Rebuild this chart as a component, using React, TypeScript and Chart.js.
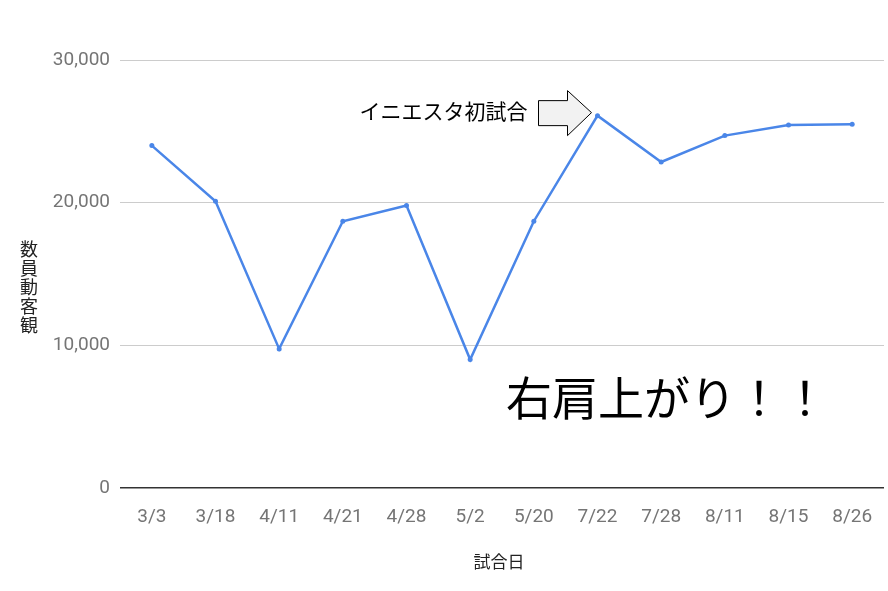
import React, { useEffect, useRef } from 'react';
import { Chart, registerables } from 'chart.js';

Chart.register(...registerables);

// ---- DATA ----
const matchDates = ['3/3', '3/18', '4/11', '4/21', '4/28', '5/2', '5/20', '7/22', '7/28', '8/11', '8/15', '8/26'];
const attendance = [24000, 20100, 9750, 18700, 19800, 9000, 18700, 26100, 22850, 24700, 25450, 25500];
const yTicks = [0, 10000, 20000, 30000];
const yTitleChars = ['数', '員', '動', '客', '観'];
const xTitle = '試合日';
const calloutText = 'イニエスタ初試合';
const calloutIndex = 7;
const bigText = '右肩上がり！！';

const LINE = '#4a86e8';
const TICK = '#757575';
const CJK = '"Noto Sans CJK JP", "Noto Sans", sans-serif';

// overlay texts + arrow, drawn after the chart
const overlay = {
  id: 'overlay',
  afterDraw(chart: any) {
    const { ctx, chartArea, scales } = chart;
    ctx.save();

    // stacked y title
    ctx.fillStyle = '#222';
    ctx.font = `18px ${CJK}`;
    ctx.textAlign = 'center';
    ctx.textBaseline = 'middle';
    yTitleChars.forEach((c, i) => ctx.fillText(c, 29, 249 + i * 19));

    // x title
    ctx.font = `17px ${CJK}`;
    ctx.fillText(xTitle, (chartArea.left + chartArea.right) / 2 - 3, 562);

    // arrow pointing at the callout point
    const px = scales.x.getPixelForValue(calloutIndex);
    const py = scales.y.getPixelForValue(attendance[calloutIndex]);
    const tx = px - 6;
    const ty = py - 3;
    ctx.beginPath();
    ctx.moveTo(tx - 53, ty - 12);
    ctx.lineTo(tx - 24, ty - 12);
    ctx.lineTo(tx - 24, ty - 22);
    ctx.lineTo(tx, ty);
    ctx.lineTo(tx - 24, ty + 23);
    ctx.lineTo(tx - 24, ty + 13);
    ctx.lineTo(tx - 53, ty + 13);
    ctx.closePath();
    ctx.fillStyle = '#f2f2f2';
    ctx.fill();
    ctx.strokeStyle = '#000';
    ctx.lineWidth = 1;
    ctx.stroke();

    // callout label
    ctx.fillStyle = '#000';
    ctx.font = `21px ${CJK}`;
    ctx.textAlign = 'right';
    ctx.fillText(calloutText, tx - 64, ty - 2);

    // big note
    ctx.font = `46px ${CJK}`;
    ctx.textAlign = 'left';
    ctx.fillText(bigText, 506, 398);

    ctx.restore();
  },
};

const AttendanceChart: React.FC = () => {
  const canvasRef = useRef<HTMLCanvasElement>(null);
  const chartRef = useRef<Chart | null>(null);

  useEffect(() => {
    if (!canvasRef.current) return;
    chartRef.current = new Chart(canvasRef.current, {
      type: 'line',
      data: {
        labels: matchDates,
        datasets: [{
          label: '観客動員数',
          data: attendance,
          borderColor: LINE,
          backgroundColor: LINE,
          borderWidth: 2.5,
          pointRadius: 2.5,
          pointBackgroundColor: LINE,
          pointBorderWidth: 0,
          tension: 0,
          fill: false,
        }],
      },
      options: {
        responsive: false,
        animation: false,
        layout: { padding: { top: 60, right: 2, left: 0, bottom: 0 } },
        plugins: { legend: { display: false }, tooltip: { enabled: false } },
        scales: {
          x: {
            type: 'category',
            offset: true,
            grid: { display: false },
            border: { display: false },
            ticks: { color: TICK, font: { family: 'Roboto', size: 19 }, padding: 10, maxRotation: 0, autoSkip: false },
            afterFit: (s: any) => { s.height = 103; },
          },
          y: {
            min: yTicks[0],
            max: yTicks[yTicks.length - 1],
            afterBuildTicks: (s: any) => { s.ticks = yTicks.map((v) => ({ value: v })); },
            grid: {
              drawTicks: false,
              color: (c: any) => (c.tick && c.tick.value === 0 ? '#333' : '#cccccc'),
              lineWidth: (c: any) => (c.tick && c.tick.value === 0 ? 1.5 : 1),
            },
            border: { display: false },
            ticks: {
              color: TICK,
              font: { family: 'Roboto', size: 19 },
              padding: 10,
              callback: (v: any) => Number(v).toLocaleString('en-US'),
            },
            afterFit: (s: any) => { s.width = 120; },
          },
        },
      } as any,
      plugins: [overlay],
    });
    return () => chartRef.current?.destroy();
  }, []);

  return <canvas ref={canvasRef} width={888} height={591} aria-label="観客動員数の推移" role="img" />;
};

export default function App() {
  return (
    <div style={{ position: 'absolute', left: 0, top: 0, width: 888, height: 591, background: '#fff' }}>
      <AttendanceChart />
    </div>
  );
}
